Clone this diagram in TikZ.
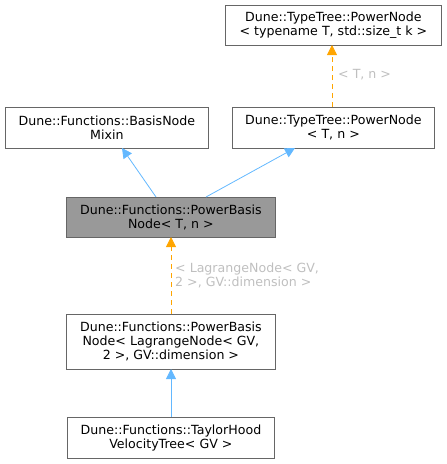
\documentclass[tikz,border=0pt]{standalone}
\usepackage{fontspec}
\setmainfont{DejaVu Sans}
\usetikzlibrary{arrows.meta}
\definecolor{edgeblue}{HTML}{63B8FF}
\definecolor{edgeorange}{HTML}{FFA500}
\definecolor{lblgray}{HTML}{BFBFBF}
\definecolor{boxgray}{HTML}{999999}
\definecolor{bordergray}{HTML}{666666}
\begin{document}
\begin{tikzpicture}[x=1pt,y=-1pt,
  cls/.style={draw=bordergray, line width=0.8pt, fill=white, align=center, font=\fontsize{12.6}{14}\selectfont, inner sep=0pt, anchor=north west},
  inh/.style={draw=edgeblue, line width=0.8pt, -{Triangle[length=10pt,width=10pt]}},
  tmpl/.style={draw=edgeorange, line width=0.8pt, dashed, dash pattern=on 5pt off 4pt, -{Triangle[length=10pt,width=10pt]}},
  lbl/.style={text=lblgray, font=\fontsize{12.6}{14}\selectfont, align=left, anchor=west, inner sep=0pt}]
\useasboundingbox (0,0) rectangle (447,464);
\node[cls, minimum width=216pt, minimum height=40pt] (top) at (225,5) {Dune::TypeTree::PowerNode\\\textless{} typename T, std::size\_t k \textgreater{}};
\node[cls, minimum width=203pt, minimum height=41pt] (mixin) at (5,107) {Dune::Functions::BasisNode\\Mixin};
\node[cls, minimum width=202pt, minimum height=41pt] (pn) at (232,107) {Dune::TypeTree::PowerNode\\\textless{} T, n \textgreater{}};
\node[cls, fill=boxgray, minimum width=209pt, minimum height=40pt] (pbn) at (66,197) {Dune::Functions::PowerBasis\\Node\textless{} T, n \textgreater{}};
\node[cls, minimum width=209pt, minimum height=55pt] (lag) at (66,314) {Dune::Functions::PowerBasis\\Node\textless{} LagrangeNode\textless{} GV,\\ 2 \textgreater{}, GV::dimension \textgreater{}};
\node[cls, minimum width=207pt, minimum height=41pt] (th) at (67,417) {Dune::Functions::TaylorHood\\VelocityTree\textless{} GV \textgreater{}};
\coordinate (pnT) at (332,107);
\coordinate (topB) at (332,45);
\draw[tmpl] (pnT) -- (topB);
\node[lbl] (l1) at (338,75) {\textless{} T, n \textgreater{}};
\coordinate (pbnT1) at (156,197);
\coordinate (mixinB) at (122,148);
\draw[inh] (pbnT1) -- (mixinB);
\coordinate (pbnT2) at (206,197);
\coordinate (pnB) at (295,148);
\draw[inh] (pbnT2) -- (pnB);
\coordinate (lagT) at (171,314);
\coordinate (pbnB) at (171,237);
\draw[tmpl] (lagT) -- (pbnB);
\node[lbl] (l2) at (175,275) {\textless{} LagrangeNode\textless{} GV,\\ 2 \textgreater{}, GV::dimension \textgreater{}};
\coordinate (thT) at (171,417);
\coordinate (lagB) at (171,369);
\draw[inh] (thT) -- (lagB);
\end{tikzpicture}
\end{document}
